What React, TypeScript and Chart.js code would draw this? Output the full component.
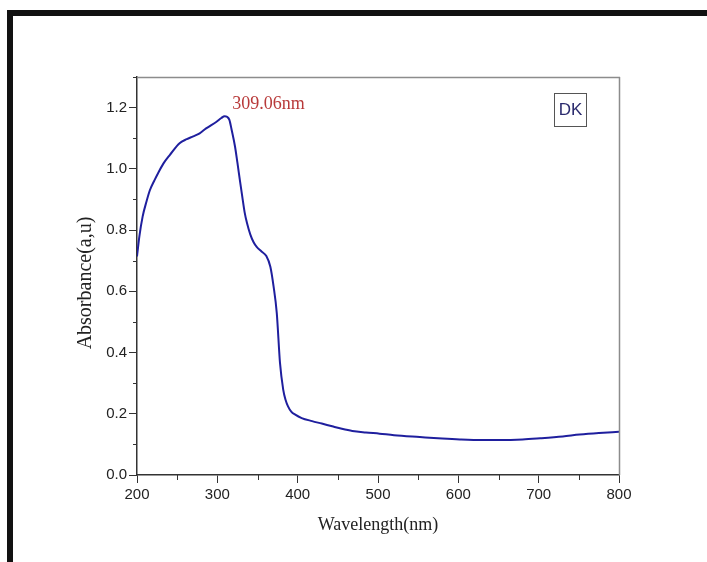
import React, { useEffect, useRef } from 'react';
import { Chart, registerables } from 'chart.js';

Chart.register(...registerables);

// ---- data ----
const wavelengths = [
  200, 203, 207, 212, 216, 222, 227, 233, 241, 253, 262, 270, 278, 286, 299, 305, 309, 312,
  315, 318, 322, 325, 328, 331, 334, 337, 341, 345, 349, 355, 361, 366, 370, 374, 378, 382,
  385, 388, 392, 397, 405, 418, 430, 443, 455, 468, 485, 502, 520, 552, 580, 602, 630, 652,
  680, 702, 730, 751, 775, 800,
];
const absorbance = [
  0.714, 0.78, 0.844, 0.895, 0.93, 0.964, 0.99, 1.018, 1.046, 1.084, 1.097, 1.106, 1.116, 1.132,
  1.154, 1.166, 1.172, 1.17, 1.16, 1.125, 1.073, 1.02, 0.964, 0.91, 0.858, 0.822, 0.786, 0.761,
  0.745, 0.73, 0.715, 0.68, 0.616, 0.529, 0.366, 0.279, 0.245, 0.224, 0.207, 0.197, 0.186,
  0.176, 0.168, 0.159, 0.151, 0.144, 0.139, 0.135, 0.13, 0.124, 0.119, 0.116, 0.114, 0.114,
  0.116, 0.12, 0.126, 0.132, 0.137, 0.141,
];
const xMinorTicks = [250, 350, 450, 550, 650, 750];
const yMinorTicks = [0.1, 0.3, 0.5, 0.7, 0.9, 1.1, 1.3];
const peakLabel = '309.06nm';
const peakLabelAt = { x: 318.5, y: 1.196 };
const sampleLabel = 'DK';
const xTitle = 'Wavelength(nm)';
const yTitle = 'Absorbance(a,u)';

const W = 707;
const H = 562;

const decorPlugin = {
  id: 'decor',
  afterDraw(chart: any) {
    const { ctx, chartArea: a, scales } = chart;
    const x = scales.x;
    const y = scales.y;
    ctx.save();
    // top & right frame lines
    ctx.strokeStyle = '#8c8c8c';
    ctx.lineWidth = 1.5;
    ctx.beginPath();
    ctx.moveTo(a.left, a.top + 0.5);
    ctx.lineTo(a.right + 1, a.top + 0.5);
    ctx.moveTo(a.right + 0.5, a.top);
    ctx.lineTo(a.right + 0.5, a.bottom);
    ctx.stroke();
    // minor ticks
    ctx.strokeStyle = '#333';
    ctx.lineWidth = 1;
    ctx.beginPath();
    for (const v of yMinorTicks) {
      const py = Math.round(y.getPixelForValue(v)) + 0.5;
      ctx.moveTo(a.left - 4, py);
      ctx.lineTo(a.left, py);
    }
    for (const v of xMinorTicks) {
      const px = Math.round(x.getPixelForValue(v)) + 0.5;
      ctx.moveTo(px, a.bottom);
      ctx.lineTo(px, a.bottom + 5);
    }
    ctx.stroke();
    // y axis title
    ctx.save();
    ctx.translate(86, (a.top + a.bottom) / 2 + 7);
    ctx.rotate(-Math.PI / 2);
    ctx.fillStyle = '#222';
    ctx.font = '20px "Liberation Serif", "Times New Roman", serif';
    ctx.textAlign = 'center';
    ctx.textBaseline = 'middle';
    ctx.fillText(yTitle, 0, 0);
    ctx.restore();
    // peak annotation
    ctx.fillStyle = '#b83a3a';
    ctx.font = '18px "Liberation Serif", "Times New Roman", serif';
    ctx.textAlign = 'left';
    ctx.textBaseline = 'alphabetic';
    ctx.fillText(peakLabel, x.getPixelForValue(peakLabelAt.x), y.getPixelForValue(peakLabelAt.y));
    // sample label box
    const bx = a.right - 65;
    const by = a.top + 16;
    ctx.strokeStyle = '#555';
    ctx.lineWidth = 1;
    ctx.strokeRect(bx + 0.5, by + 0.5, 32, 33);
    ctx.fillStyle = '#2b2b6e';
    ctx.font = '17px "Liberation Sans", Arial, sans-serif';
    ctx.textAlign = 'center';
    ctx.textBaseline = 'middle';
    ctx.fillText(sampleLabel, bx + 16.5, by + 17.5);
    ctx.restore();
  },
};

export default function App() {
  const ref = useRef<HTMLCanvasElement | null>(null);

  useEffect(() => {
    if (!ref.current) return;
    const tickFont = { family: '"Liberation Sans", Arial, sans-serif', size: 15 };
    const chart = new Chart(ref.current, {
      type: 'line',
      data: {
        datasets: [
          {
            data: wavelengths.map((w, i) => ({ x: w, y: absorbance[i] })),
            borderColor: '#1f1f9e',
            borderWidth: 2,
            pointRadius: 0,
            fill: false,
            cubicInterpolationMode: 'monotone',
          },
        ],
      },
      options: {
        animation: false,
        responsive: false,
        devicePixelRatio: 1,
        layout: { padding: { left: 0, top: 77, right: 88, bottom: 0 } },
        plugins: { legend: { display: false }, tooltip: { enabled: false } },
        scales: {
          x: {
            type: 'linear',
            min: 200,
            max: 800,
            afterFit: (s: any) => {
              s.height = 87;
            },
            ticks: { stepSize: 100, padding: 3, color: '#222', font: tickFont, maxRotation: 0 },
            grid: { drawOnChartArea: false, drawTicks: true, tickLength: 8, tickColor: '#333' },
            border: { color: '#333', width: 1.5 },
            title: {
              display: true,
              text: xTitle,
              color: '#222',
              font: { family: '"Liberation Serif", "Times New Roman", serif', size: 18 },
              padding: { top: 0, bottom: 26 },
            },
          },
          y: {
            type: 'linear',
            min: 0,
            max: 1.3,
            afterFit: (s: any) => {
              s.width = 137;
            },
            ticks: {
              stepSize: 0.2,
              includeBounds: false,
              padding: 2,
              color: '#222',
              font: tickFont,
              callback: (v: any) => Number(v).toFixed(1),
            },
            grid: { drawOnChartArea: false, drawTicks: true, tickLength: 8, tickColor: '#333' },
            border: { color: '#333', width: 1.5 },
            title: { display: false, text: yTitle },
          },
        },
      },
      plugins: [decorPlugin],
    } as any);
    return () => chart.destroy();
  }, []);

  return (
    <div style={{ position: 'fixed', left: 0, top: 0, width: W, height: H, background: '#fff', overflow: 'hidden' }}>
      <div
        style={{
          position: 'absolute',
          left: 7,
          top: 10,
          width: W,
          height: H,
          borderLeft: '6px solid #111',
          borderTop: '6px solid #111',
        }}
      />
      <canvas
        ref={ref}
        width={W}
        height={H}
        style={{ position: 'absolute', left: 0, top: 0, width: W, height: H }}
      />
    </div>
  );
}
